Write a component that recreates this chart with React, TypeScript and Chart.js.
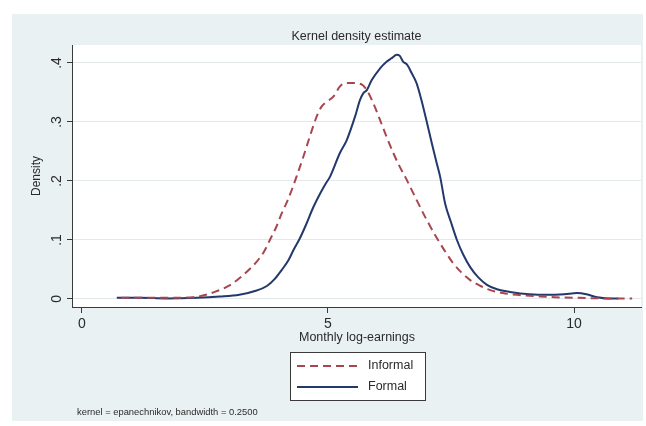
import React, { useEffect, useRef } from "react";
import { Chart, registerables } from "chart.js";

Chart.register(...registerables);

// ---------- data ----------
const seriesNames = ["Informal", "Formal"];

const informalX = [0.8, 1.3, 1.8, 2.26, 2.7, 3.0, 3.2, 3.4, 3.55, 3.7, 3.82, 3.95, 4.06, 4.17, 4.27, 4.36, 4.5, 4.63, 4.77, 4.87, 4.97, 5.11, 5.24, 5.35, 5.51, 5.68, 5.79, 5.92, 6.06, 6.19, 6.33, 6.46, 6.57, 6.7, 6.8, 7.0, 7.2, 7.37, 7.54, 7.7, 7.89, 8.1, 8.3, 8.55, 8.84, 9.2, 9.6, 10.1, 10.6, 11.18];
const informalY = [0.002, 0.002, 0.002, 0.003, 0.012, 0.023, 0.035, 0.05, 0.063, 0.08, 0.1, 0.122, 0.145, 0.165, 0.186, 0.207, 0.241, 0.275, 0.309, 0.326, 0.334, 0.343, 0.36, 0.366, 0.366, 0.364, 0.354, 0.332, 0.303, 0.275, 0.247, 0.224, 0.207, 0.185, 0.168, 0.135, 0.105, 0.082, 0.061, 0.046, 0.032, 0.022, 0.015, 0.01, 0.007, 0.005, 0.003, 0.002, 0.001, 0.001];

const formalX = [0.71, 1.2, 1.7, 2.34, 2.8, 3.2, 3.5, 3.76, 3.92, 4.06, 4.2, 4.3, 4.43, 4.55, 4.7, 4.85, 4.95, 5.04, 5.24, 5.38, 5.55, 5.65, 5.72, 5.79, 5.89, 6.06, 6.19, 6.29, 6.4, 6.46, 6.53, 6.6, 6.7, 6.8, 6.9, 7.0, 7.11, 7.21, 7.28, 7.38, 7.5, 7.62, 7.75, 7.89, 8.05, 8.23, 8.45, 8.7, 9.1, 9.45, 9.8, 10.06, 10.25, 10.47, 10.7, 10.9];
const formalY = [0.002, 0.002, 0.001, 0.002, 0.004, 0.007, 0.013, 0.022, 0.034, 0.049, 0.066, 0.083, 0.103, 0.125, 0.155, 0.18, 0.195, 0.207, 0.247, 0.269, 0.309, 0.337, 0.349, 0.354, 0.371, 0.391, 0.402, 0.408, 0.414, 0.412, 0.402, 0.398, 0.383, 0.366, 0.337, 0.303, 0.264, 0.23, 0.207, 0.162, 0.13, 0.1, 0.075, 0.054, 0.037, 0.024, 0.016, 0.012, 0.008, 0.007, 0.008, 0.01, 0.008, 0.003, 0.001, 0.001];

const xTicks = [0, 5, 10];
const xTickLabels = ["0", "5", "10"];
const yTicks = [0, 0.1, 0.2, 0.3, 0.4];
const yTickLabels = ["0", ".1", ".2", ".3", ".4"];

const titleText = "Kernel density estimate";
const xTitle = "Monthly log-earnings";
const yTitle = "Density";
const noteText = "kernel = epanechnikov, bandwidth = 0.2500";

// ---------- style ----------
const W = 646;
const H = 426;
const PANEL = "#eaf1f3";
const TEXT = "#2a2a2a";
const AXIS = "#3a3a3a";
const GRID = "#e3e9eb";
const INFORMAL_COLOR = "#a84650";
const FORMAL_COLOR = "#23386b";
const DASH = [8, 5];
const FONT = '"Liberation Sans", Arial, sans-serif';

const toPoints = (xs: number[], ys: number[]) => xs.map((x, i) => ({ x, y: ys[i] }));

const decor = {
  id: "decor",
  beforeDraw(chart: any) {
    const { ctx, chartArea: a } = chart;
    ctx.save();
    ctx.fillStyle = "#ffffff";
    ctx.fillRect(0, 0, W, H);
    ctx.fillStyle = PANEL;
    ctx.fillRect(12, 14, 631, 407);
    ctx.fillStyle = "#ffffff";
    ctx.fillRect(a.left, a.top, a.right - a.left, a.bottom - a.top);
    ctx.restore();
  },
  afterDraw(chart: any) {
    const { ctx, chartArea: a } = chart;
    const ys = chart.scales.y;
    ctx.save();
    ctx.fillStyle = TEXT;
    ctx.textAlign = "center";
    ctx.textBaseline = "middle";

    // title
    ctx.font = `12.5px ${FONT}`;
    ctx.fillText(titleText, (a.left + a.right) / 2, 37);

    // y tick labels (rotated, Stata style)
    ctx.font = `14px ${FONT}`;
    yTicks.forEach((v, i) => {
      const py = ys.getPixelForValue(v);
      ctx.save();
      ctx.translate(57, py);
      ctx.rotate(-Math.PI / 2);
      ctx.fillText(yTickLabels[i], 0, 0);
      ctx.restore();
    });

    // y title
    ctx.save();
    ctx.font = `12px ${FONT}`;
    ctx.translate(37, (a.top + a.bottom) / 2);
    ctx.rotate(-Math.PI / 2);
    ctx.fillText(yTitle, 0, 0);
    ctx.restore();

    // x title
    ctx.font = `12.5px ${FONT}`;
    ctx.fillText(xTitle, 357, 338);

    // legend
    const lx = 290, ly = 352, lw = 135, lh = 48;
    ctx.fillStyle = "#ffffff";
    ctx.fillRect(lx, ly, lw, lh);
    ctx.strokeStyle = AXIS;
    ctx.lineWidth = 1;
    ctx.strokeRect(lx + 0.5, ly + 0.5, lw, lh);

    ctx.lineWidth = 2;
    ctx.strokeStyle = INFORMAL_COLOR;
    ctx.setLineDash(DASH);
    ctx.beginPath();
    ctx.moveTo(297, 366);
    ctx.lineTo(358, 366);
    ctx.stroke();
    ctx.setLineDash([]);
    ctx.strokeStyle = FORMAL_COLOR;
    ctx.beginPath();
    ctx.moveTo(297, 387);
    ctx.lineTo(358, 387);
    ctx.stroke();

    ctx.fillStyle = TEXT;
    ctx.textAlign = "left";
    ctx.font = `12.5px ${FONT}`;
    ctx.fillText(seriesNames[0], 368, 366);
    ctx.fillText(seriesNames[1], 368, 387);

    // note
    ctx.font = `9.4px ${FONT}`;
    ctx.fillText(noteText, 77, 412);

    ctx.restore();
  },
};

export default function App() {
  const ref = useRef<HTMLCanvasElement | null>(null);

  useEffect(() => {
    if (!ref.current) return;
    const chart = new Chart(ref.current, {
      type: "scatter",
      data: {
        datasets: [
          {
            label: seriesNames[0],
            data: toPoints(informalX, informalY),
            showLine: true,
            borderColor: INFORMAL_COLOR,
            borderWidth: 2,
            borderDash: DASH,
            pointRadius: 0,
            cubicInterpolationMode: "monotone",
          },
          {
            label: seriesNames[1],
            data: toPoints(formalX, formalY),
            showLine: true,
            borderColor: FORMAL_COLOR,
            borderWidth: 2,
            pointRadius: 0,
            cubicInterpolationMode: "monotone",
          },
        ],
      },
      options: {
        responsive: false,
        animation: false,
        devicePixelRatio: 1,
        layout: { padding: { top: 45, right: 5, left: 0, bottom: 0 } },
        plugins: {
          legend: { display: false },
          title: { display: false },
          tooltip: { enabled: false },
        },
        scales: {
          x: {
            type: "linear",
            min: -0.2,
            max: 11.36,
            afterBuildTicks: (s: any) => {
              s.ticks = xTicks.map((v) => ({ value: v }));
            },
            afterFit: (s: any) => {
              s.height = H - 307;
            },
            ticks: {
              callback: (v: any) => xTickLabels[xTicks.indexOf(Number(v))] ?? "",
              font: { family: FONT, size: 14 },
              color: TEXT,
              padding: 3,
              maxRotation: 0,
              autoSkip: false,
            },
            grid: {
              drawOnChartArea: false,
              drawTicks: true,
              tickLength: 6,
              tickColor: AXIS,
              tickWidth: 1,
            },
            border: { display: true, color: AXIS, width: 1 },
          },
          y: {
            type: "linear",
            min: -0.0136,
            max: 0.4305,
            afterBuildTicks: (s: any) => {
              s.ticks = yTicks.map((v) => ({ value: v }));
            },
            afterFit: (s: any) => {
              s.width = 72;
            },
            ticks: { display: false },
            grid: {
              drawOnChartArea: true,
              color: GRID,
              lineWidth: 1,
              drawTicks: true,
              tickLength: 5,
              tickColor: AXIS,
              tickWidth: 1,
            },
            border: { display: true, color: AXIS, width: 1 },
          },
        },
      },
      plugins: [decor],
    } as any);
    return () => chart.destroy();
  }, []);

  return (
    <div style={{ position: "fixed", left: 0, top: 0, width: W, height: H }}>
      <canvas ref={ref} width={W} height={H} style={{ width: W, height: H, display: "block" }} />
    </div>
  );
}
